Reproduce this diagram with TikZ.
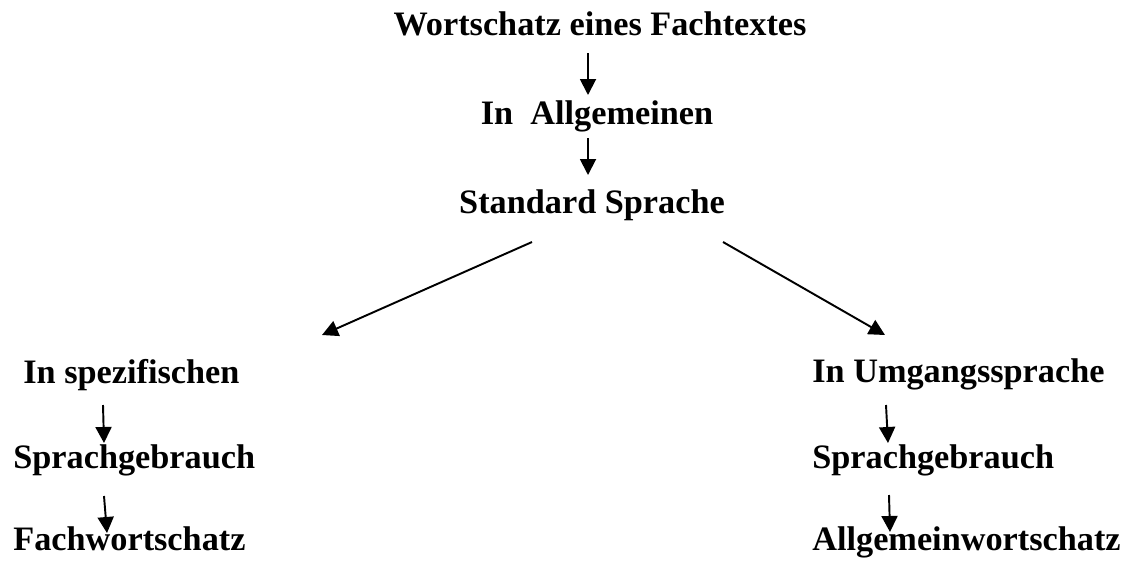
\documentclass[tikz,border=0pt]{standalone}
\usepackage{fontspec}
\setmainfont{Liberation Serif}
\usetikzlibrary{arrows.meta,positioning}
\tikzset{>={Triangle[length=0.32cm,width=0.32cm]}}
\tikzset{
  word/.style={font=\fontsize{19.5}{23}\selectfont\bfseries, inner sep=0pt},
  arr/.style={->, line width=1.1pt}
}

\begin{document}
\begin{tikzpicture}[x=0.02cm,y=-0.02cm]
\useasboundingbox (0,0) rectangle (1125,562);

% Top column
\node[word, anchor=base] (wort) at (600,35)  {Wortschatz eines Fachtextes};
\node[word, anchor=base] (allg) at (597,124) {In~~Allgemeinen};
\node[word, anchor=base] (std)  at (592,213) {Standard Sprache};

\draw[arr] ([shift={(-12,18)}]wort.base) -- ([shift={(-9,-29)}]allg.base);
\draw[arr] ([shift={(-9,14)}]allg.base) -- ([shift={(-4,-38)}]std.base);

% Left column
\node[word, anchor=base west] (spez)  at (23,383) {In spezifischen};
\node[word, anchor=base west] (sgl)   at (13,468) {Sprachgebrauch};
\node[word, anchor=base west] (fach)  at (13,550) {Fachwortschatz};

% Right column
\node[word, anchor=base west] (umg)   at (812,382) {In Umgangssprache};
\node[word, anchor=base west] (sgr)   at (812,468) {Sprachgebrauch};
\node[word, anchor=base west] (allgw) at (812,550) {Allgemeinwortschatz};

% Diagonals
\draw[arr] ([shift={(-60,29)}]std.base) -- ([shift={(299,-48)}]spez.base west);
\draw[arr] ([shift={(131,29)}]std.base) -- ([shift={(73,-47)}]umg.base west);

% Small arrows
\draw[arr] ([shift={(80,22)}]spez.base west) -- ([shift={(91,-25)}]sgl.base west);
\draw[arr] ([shift={(91,28)}]sgl.base west) -- ([shift={(94,-17)}]fach.base west);
\draw[arr] ([shift={(74,23)}]umg.base west) -- ([shift={(76,-25)}]sgr.base west);
\draw[arr] ([shift={(77,27)}]sgr.base west) -- ([shift={(78,-18)}]allgw.base west);

\end{tikzpicture}
\end{document}
